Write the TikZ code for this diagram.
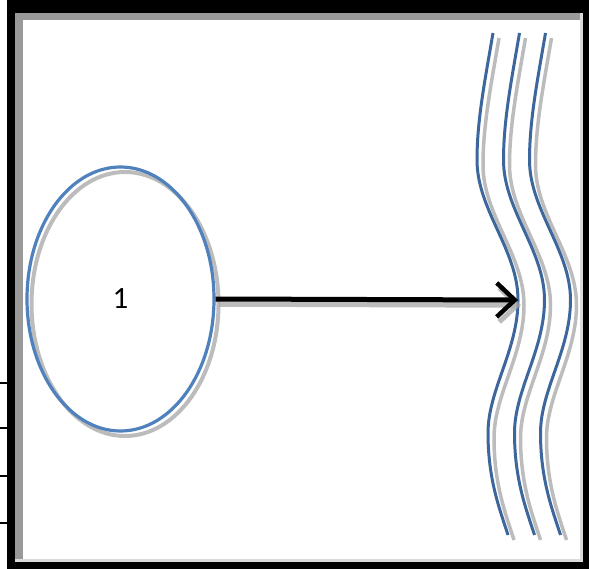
\documentclass[tikz,border=0pt]{standalone}
\usepackage{fontspec}
\setmainfont{Carlito}
\usetikzlibrary{shapes.geometric,arrows.meta}
\definecolor{ellblue}{HTML}{4F81BD}
\definecolor{waveblue}{HTML}{3D679C}
\definecolor{shadowgray}{HTML}{A6A6A6}
\definecolor{bandgray}{HTML}{999999}
\definecolor{edgegray}{HTML}{DADADA}
\begin{document}
\begin{tikzpicture}[x=1pt,y=-1pt,
  tickline/.style={black,line width=2pt},
  ellbox/.style={ellipse,draw=ellblue,line width=3.2pt,inner sep=0pt,
    minimum width=187pt,minimum height=264pt,font=\fontsize{31}{31}\selectfont},
  ellshadow/.style={ellipse,draw=shadowgray,line width=4pt,inner sep=0pt,
    minimum width=187pt,minimum height=264pt,opacity=0.75},
  arrowline/.style={black,line width=5pt,-{Straight Barb[length=18pt,width=34pt,line width=4.5pt]}},
  arrowshadow/.style={shadowgray,line width=5.5pt,opacity=0.75,-{Straight Barb[length=18pt,width=34pt,line width=5pt]}},
  wave/.style={waveblue,line width=3pt},
  waveshadow/.style={shadowgray,line width=3.5pt,opacity=0.75}]
\useasboundingbox (0,0) rectangle (589,569);
% frame
\fill[black] (7,0) rectangle (589,569);
\fill[edgegray] (15,13) rectangle (583,562);
\fill[bandgray] (15,13) rectangle (580,559);
\fill[white] (23,20) rectangle (580,559);
\foreach \yy in {383,428,476,523} \draw[tickline] (0,\yy) -- (7,\yy);
% ellipse
\node[ellshadow] (es) at (125,304) {};
\node[ellbox] (e) at (120.5,299) {1};
% waves
\foreach \d in {0,26.5,52.5} {
  \begin{scope}[xshift=\d pt]
  \draw[waveshadow,shift={(6,5)}] (493,33) .. controls (485,80) and (477,120) .. (477,160)
     .. controls (477,210) and (518,250) .. (518,300)
     .. controls (518,350) and (488,390) .. (488,433)
     .. controls (488,480) and (500,510) .. (508,535);
  \draw[wave] (493,33) .. controls (485,80) and (477,120) .. (477,160)
     .. controls (477,210) and (518,250) .. (518,300)
     .. controls (518,350) and (488,390) .. (488,433)
     .. controls (488,480) and (500,510) .. (508,535);
  \end{scope}
}
% arrow
\coordinate (tip) at (518,300);
\draw[arrowshadow] ([shift={(3,5)}]e.east) -- ([shift={(3,5)}]tip);
\draw[arrowline] (e.east) -- (tip);
\end{tikzpicture}
\end{document}
